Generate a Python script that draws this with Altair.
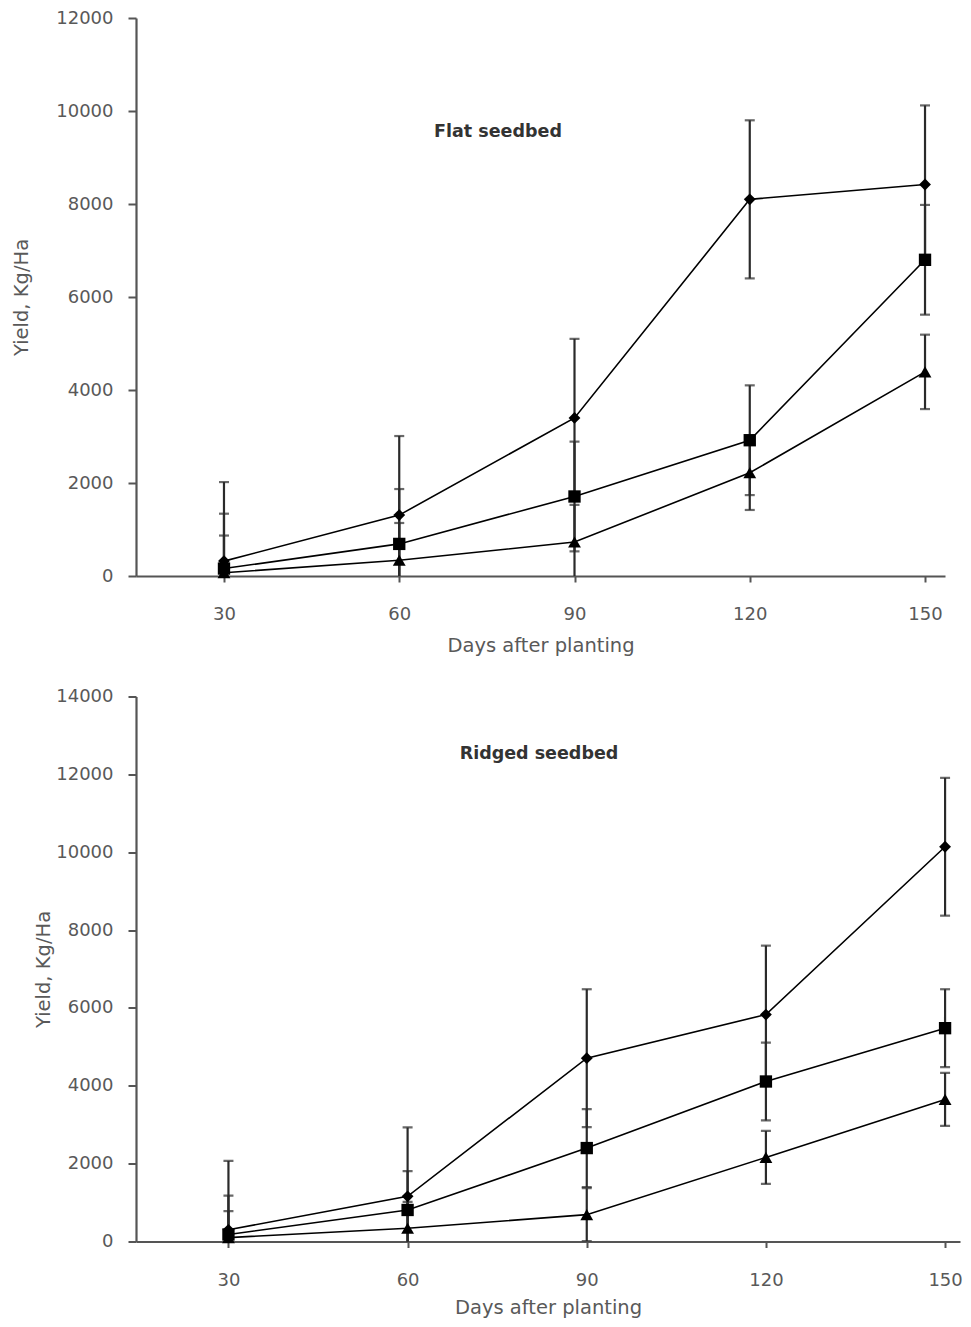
import altair as alt
import pandas as pd

days = [30, 60, 90, 120, 150]
series_names = ["Series 1", "Series 2", "Series 3"]
series_shapes = ["diamond", "square", "triangle-up"]
series_sizes = [140, 165, 140]

# Flat seedbed (top panel)
flat_s1 = [320, 1310, 3400, 8100, 8420]
flat_s2 = [160, 690, 1710, 2920, 6800]
flat_s3 = [70, 340, 730, 2220, 4390]
flat_err = [1700, 1180, 800]

# Ridged seedbed (bottom panel)
ridged_s1 = [300, 1160, 4710, 5830, 10140]
ridged_s2 = [180, 810, 2400, 4110, 5480]
ridged_s3 = [100, 340, 690, 2160, 3650]
ridged_err = [1770, 1000, 680]

FONT = "DejaVu Sans"
GREY = "#595959"


def make_df(series_vals, errs):
    rows = []
    for name, vals, err in zip(series_names, series_vals, errs):
        for d, v in zip(days, vals):
            rows.append({"day": d, "series": name, "yld": v,
                         "lo": v - err, "hi": v + err})
    return pd.DataFrame(rows)


def panel(df, ymax, label, w, h, xdom, tx, ty, title_pad, xlab_pad, xtitle_pad):
    xs = alt.Scale(domain=xdom, nice=False, zero=False)
    ys = alt.Scale(domain=[0, ymax], nice=False)
    xax = alt.Axis(values=days, title="Days after planting", grid=False,
                   tickSize=6, labelPadding=xlab_pad, titlePadding=xtitle_pad)
    yax = alt.Axis(values=list(range(0, ymax + 1, 2000)), format="d",
                   title="Yield, Kg/Ha", grid=False, tickSize=8,
                   labelPadding=15, titlePadding=title_pad)
    x = alt.X("day:Q", scale=xs, axis=xax)
    base = alt.Chart(df)
    rules = base.mark_rule(clip=True, color="#2a2a2a", strokeWidth=2.2).encode(
        x=x, y=alt.Y("lo:Q", scale=ys, axis=yax), y2="hi:Q")
    cap_hi = base.mark_tick(orient="horizontal", size=10, thickness=2.2,
                            color="#2a2a2a", clip=True).encode(
        x=x, y=alt.Y("hi:Q", scale=ys, axis=yax))
    cap_lo = base.mark_tick(orient="horizontal", size=10, thickness=2.2,
                            color="#2a2a2a", clip=True).encode(
        x=x, y=alt.Y("lo:Q", scale=ys, axis=yax))
    lines = base.mark_line(color="black", strokeWidth=1.6).encode(
        x=x, y=alt.Y("yld:Q", scale=ys, axis=yax), detail="series:N")
    points = base.mark_point(filled=True, color="black", opacity=1).encode(
        x=x, y=alt.Y("yld:Q", scale=ys, axis=yax),
        shape=alt.Shape("series:N", scale=alt.Scale(domain=series_names, range=series_shapes), legend=None),
        size=alt.Size("series:N", scale=alt.Scale(domain=series_names, range=series_sizes), legend=None))
    text = alt.Chart(pd.DataFrame({"t": [label]})).mark_text(
        font=FONT, fontSize=17.5, fontWeight="bold", color="#333333",
        align="center", baseline="middle").encode(
        text="t:N", x=alt.value(tx), y=alt.value(ty))
    return alt.layer(rules, cap_hi, cap_lo, lines, points, text).properties(
        width=w, height=h)


top = panel(make_df([flat_s1, flat_s2, flat_s3], flat_err), 12000,
            "Flat seedbed", 809, 558, [14.94, 153.42], 362, 114, 24.3, 23.5, 13)
bottom = panel(make_df([ridged_s1, ridged_s2, ridged_s3], ridged_err), 14000,
               "Ridged seedbed", 824, 545, [14.52, 152.5], 403, 57, 2, 24, 9)

chart = alt.vconcat(top, bottom, spacing=32.5).properties(
    padding={"left": 3, "top": 1, "right": 0, "bottom": 1}
).configure_view(stroke=None).configure_axis(
    labelFont=FONT, labelFontSize=18, labelColor=GREY,
    titleFont=FONT, titleFontSize=19.5, titleFontWeight="normal", titleColor=GREY,
    domainColor="#555555", domainWidth=2.2, tickColor="#555555", tickWidth=2
)

chart.save("out.html", embed_options={"renderer": "svg", "actions": False})
